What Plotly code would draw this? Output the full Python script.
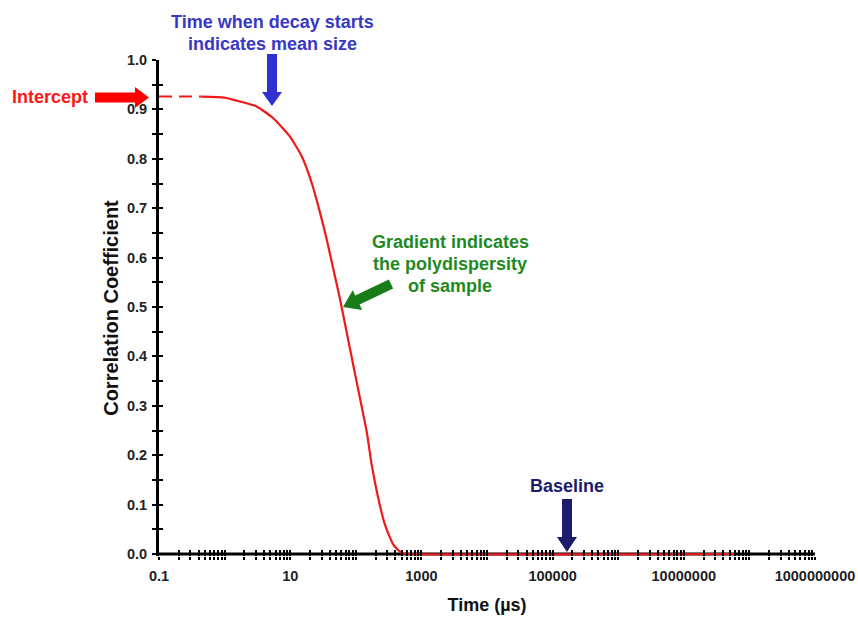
import math
import plotly.graph_objects as go

# ---------------- data ----------------
time_us = [0.45, 1.0, 1.72, 3.08, 5.52, 9.93, 15.0, 21.3, 28.5, 36.0, 45.4, 57.4, 72.6, 91.6,
           116, 147, 175, 220, 279, 373, 501, 670, 6e7]
corr = [0.926, 0.924, 0.916, 0.906, 0.882, 0.845, 0.805, 0.751, 0.691, 0.637, 0.577, 0.516, 0.449, 0.382,
        0.315, 0.247, 0.180, 0.113, 0.059, 0.019, 0.002, 0.0, 0.0]
intercept_time = [0.1, 0.45]
intercept_corr = [0.926, 0.926]

x_major = [0.1, 10, 1000, 100000, 10000000, 1000000000]
x_major_labels = ["0.1", "10", "1000", "100000", "10000000", "1000000000"]
x_minor = [m * 10 ** k for k in range(-1, 9) for m in range(1, 10)] + [1e9]
y_major = [0.0, 0.1, 0.2, 0.3, 0.4, 0.5, 0.6, 0.7, 0.8, 0.9, 1.0]
y_minor = [i * 0.05 for i in range(21)]
Y_RANGE = [-0.004, 1.0]

# ---------------- geometry ----------------
W, H = 858, 618
L, R, T, B = 159, 815, 60, 556
FONT = "Liberation Sans, Arial, sans-serif"


def px(X):
    return (X - L) / (R - L)


def py(Y):
    return (B - Y) / (B - T)


def block_arrow(tail, tip, shaft_w, head_w, head_len):
    tx, ty = tail
    hx, hy = tip
    dx, dy = hx - tx, hy - ty
    ln = math.hypot(dx, dy)
    ux, uy = dx / ln, dy / ln
    nx, ny = -uy, ux
    bx, by = hx - ux * head_len, hy - uy * head_len
    pts = [
        (tx + nx * shaft_w / 2, ty + ny * shaft_w / 2),
        (bx + nx * shaft_w / 2, by + ny * shaft_w / 2),
        (bx + nx * head_w / 2, by + ny * head_w / 2),
        (hx, hy),
        (bx - nx * head_w / 2, by - ny * head_w / 2),
        (bx - nx * shaft_w / 2, by - ny * shaft_w / 2),
        (tx - nx * shaft_w / 2, ty - ny * shaft_w / 2),
    ]
    path = "M " + " L ".join(f"{px(a):.5f},{py(b):.5f}" for a, b in pts) + " Z"
    return path


RED = "#f01818"
BLUE_TXT = "#3838c4"
BLUE_ARR = "#2f2fd2"
GREEN_TXT = "#1f8a1f"
GREEN_ARR = "#187c18"
NAVY = "#1c1c6c"

fig = go.Figure()

fig.add_trace(go.Scatter(
    x=time_us, y=corr, mode="lines",
    line=dict(color=RED, width=2.2, shape="spline", smoothing=0.5),
    cliponaxis=False, hoverinfo="skip", showlegend=False,
))
fig.add_trace(go.Scatter(
    x=intercept_time, y=intercept_corr, mode="lines",
    line=dict(color=RED, width=2, dash="13px,7px"),
    xaxis="x2", yaxis="y2", cliponaxis=False, hoverinfo="skip", showlegend=False,
))

tickfont = dict(family=FONT, size=14.5, color="#222222", weight="bold")

fig.update_layout(
    width=W, height=H,
    margin=dict(l=L, r=W - R, t=T, b=H - B, autoexpand=False),
    paper_bgcolor="white", plot_bgcolor="rgba(0,0,0,0)",
    showlegend=False,
    xaxis=dict(
        type="log", range=[-1, 9], tickmode="array", tickvals=x_major, ticktext=x_major_labels,
        ticks="outside", ticklen=3, tickwidth=2, tickcolor="black",
        minor=dict(tickmode="array", tickvals=x_minor, ticks="outside", ticklen=3, tickwidth=2, tickcolor="black"),
        showline=False, showgrid=False, zeroline=False,
        tickfont=tickfont, ticklabelstandoff=4, layer="below traces",
        title=dict(text="Time (µs)", font=dict(family=FONT, size=18, color="#111111", weight="bold"), standoff=14),
    ),
    yaxis=dict(
        range=Y_RANGE, tickmode="array", tickvals=y_major, ticktext=[f"{v:.1f}" for v in y_major],
        ticks="outside", ticklen=4, tickwidth=2, tickcolor="black",
        minor=dict(tickmode="array", tickvals=y_minor, ticks="outside", ticklen=4, tickwidth=2, tickcolor="black"),
        showline=True, linewidth=3, linecolor="black", showgrid=False, zeroline=False,
        tickfont=tickfont, ticklabelstandoff=2, layer="below traces",
        title=dict(text="Correlation Coefficient", font=dict(family=FONT, size=20, color="#111111", weight="bold"), standoff=3),
    ),
    xaxis2=dict(
        type="log", range=[-1, 9], overlaying="x", anchor="y", side="bottom",
        tickmode="array", tickvals=x_minor, ticks="inside", ticklen=6, tickwidth=2, tickcolor="black",
        showticklabels=False, showline=False, showgrid=False, zeroline=False,
    ),
    yaxis2=dict(
        range=Y_RANGE, overlaying="y", anchor="x", side="left",
        tickmode="array", tickvals=y_minor, ticks="inside", ticklen=4, tickwidth=2, tickcolor="black",
        showticklabels=False, showline=False, showgrid=False, zeroline=False,
    ),
)

shapes = [
    # x-axis line at y = 0, drawn beneath the curve so the red baseline sits on top of it
    dict(type="line", xref="paper", yref="y", x0=px(L - 3), x1=1, y0=0, y1=0,
         line=dict(color="black", width=3), layer="below"),
    dict(type="path", xref="paper", yref="paper", path=block_arrow((95, 97.5), (149, 97.5), 10, 21, 14),
         fillcolor="#ff0000", line=dict(width=0)),
    dict(type="path", xref="paper", yref="paper", path=block_arrow((272, 54), (272, 106), 10, 20, 14),
         fillcolor=BLUE_ARR, line=dict(width=0)),
    dict(type="path", xref="paper", yref="paper", path=block_arrow((391, 284), (343, 307), 10, 22, 16),
         fillcolor=GREEN_ARR, line=dict(width=0)),
    dict(type="path", xref="paper", yref="paper", path=block_arrow((567, 499), (567, 552), 10, 20, 15),
         fillcolor=NAVY, line=dict(width=0)),
]
fig.update_layout(shapes=shapes)

ann_font = dict(family=FONT, size=18, weight="bold")


def text_ann(text, X, Y, color):
    return dict(text=text, x=px(X), y=py(Y), xref="paper", yref="paper", showarrow=False,
                xanchor="center", yanchor="middle", align="center",
                font=dict(**ann_font, color=color))


annotations = [
    text_ann("Intercept", 50, 97, "#ff1515"),
    text_ann("Time when decay starts", 272, 22, BLUE_TXT),
    text_ann("indicates mean size", 272, 44, BLUE_TXT),
    text_ann("Gradient indicates", 450, 242, GREEN_TXT),
    text_ann("the polydispersity", 450, 264, GREEN_TXT),
    text_ann("of sample", 450, 286, GREEN_TXT),
    text_ann("Baseline", 567, 486, NAVY),
]
fig.update_layout(annotations=annotations)

fig.write_html(
    "out.html",
    config={"displayModeBar": False},
    post_script="document.body.style.margin='0';document.body.style.overflow='hidden';",
)
